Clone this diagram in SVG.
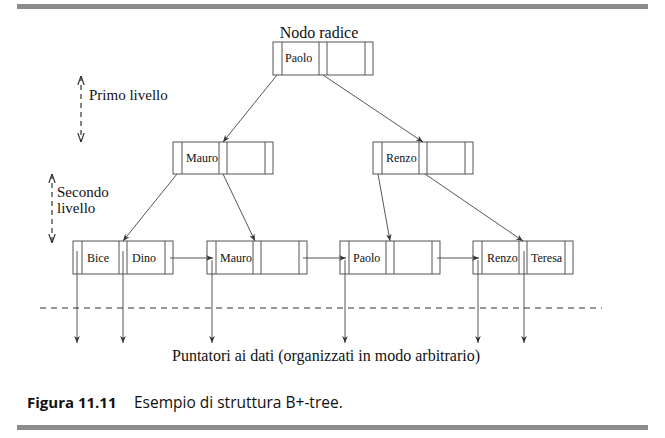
<svg xmlns="http://www.w3.org/2000/svg" width="665" height="438" viewBox="0 0 665 438">
<defs>
<marker id="ah" viewBox="0 0 10 10" refX="10" refY="5" markerWidth="7" markerHeight="7" orient="auto" markerUnits="userSpaceOnUse">
<path d="M0,1 L10,5 L0,9 L3,5 Z" fill="#333"/>
</marker>
<marker id="va" viewBox="0 0 10 10" refX="10" refY="5" markerWidth="9" markerHeight="9" orient="auto" markerUnits="userSpaceOnUse">
<path d="M0,1.5 L10,5 L0,8.5" fill="none" stroke="#333" stroke-width="1.3"/>
</marker>
<marker id="vs" viewBox="0 0 10 10" refX="0" refY="5" markerWidth="9" markerHeight="9" orient="auto" markerUnits="userSpaceOnUse">
<path d="M10,1.5 L0,5 L10,8.5" fill="none" stroke="#333" stroke-width="1.3"/>
</marker>
</defs>
<style>
.box{fill:#fff;stroke:#555;stroke-width:1}
.div{stroke:#555;stroke-width:1}
.k{font-family:"Liberation Serif",serif;font-size:12px;fill:#111}
.lbl{font-family:"Liberation Serif",serif;font-size:16px;fill:#111}
.ln{stroke:#444;stroke-width:0.9;fill:none;marker-end:url(#ah)}
.dash{stroke:#333;stroke-width:1.2;stroke-dasharray:6,5;fill:none}
.vd{stroke:#333;stroke-width:1.2;stroke-dasharray:5,4;fill:none;marker-start:url(#vs);marker-end:url(#va)}
.bar{fill:#8c8c8c}
.cap{font-family:"Open Sans","DejaVu Sans",sans-serif;font-size:15px;fill:#111}
</style>
<rect class="bar" x="17" y="4" width="631" height="5"/>
<rect class="bar" x="17" y="425" width="631" height="5"/>

<text class="lbl" x="319" y="38" text-anchor="middle">Nodo radice</text>

<g id="root">
<rect class="box" x="273" y="42" width="100" height="33"/>
<path class="div" d="M282,42V75M319,42V75M327,42V75M365,42V75"/>
<text class="k" x="285" y="62">Paolo</text>
</g>
<g id="mauro-int">
<rect class="box" x="173" y="142" width="100" height="32"/>
<path class="div" d="M182,142V174M219,142V174M227,142V174M265,142V174"/>
<text class="k" x="186" y="162">Mauro</text>
</g>
<g id="renzo-int">
<rect class="box" x="373" y="142" width="100" height="32"/>
<path class="div" d="M382,142V174M419,142V174M427,142V174M465,142V174"/>
<text class="k" x="386" y="162">Renzo</text>
</g>
<g id="leaf-bice">
<rect class="box" x="73" y="241" width="100" height="33"/>
<path class="div" d="M82,241V274M119,241V274M127,241V274M165,241V274"/>
<text class="k" x="87" y="262">Bice</text>
<text class="k" x="132" y="262">Dino</text>
</g>
<g id="leaf-mauro">
<rect class="box" x="207" y="241" width="100" height="33"/>
<path class="div" d="M216,241V274M253,241V274M261,241V274M299,241V274"/>
<text class="k" x="220" y="262">Mauro</text>
</g>
<g id="leaf-paolo">
<rect class="box" x="340" y="241" width="100" height="33"/>
<path class="div" d="M349,241V274M386,241V274M394,241V274M432,241V274"/>
<text class="k" x="353" y="262">Paolo</text>
</g>
<g id="leaf-renzo">
<rect class="box" x="473" y="241" width="100" height="33"/>
<path class="div" d="M482,241V274M519,241V274M527,241V274M565,241V274"/>
<text class="k" x="487" y="262">Renzo</text>
<text class="k" x="531" y="262">Teresa</text>
</g>

<g id="connectors">
<line class="ln" x1="277" y1="75" x2="223" y2="142"/>
<line class="ln" x1="323" y1="75" x2="423" y2="142"/>
<line class="ln" x1="177" y1="174" x2="123" y2="241"/>
<line class="ln" x1="223" y1="174" x2="255" y2="241"/>
<line class="ln" x1="378" y1="174" x2="390" y2="241"/>
<line class="ln" x1="425" y1="174" x2="523" y2="241"/>
<line class="ln" x1="170" y1="258" x2="213" y2="258"/>
<line class="ln" x1="303" y1="258" x2="346" y2="258"/>
<line class="ln" x1="437" y1="258" x2="479" y2="258"/>
<line class="ln" x1="77" y1="251" x2="77" y2="343"/>
<line class="ln" x1="123" y1="251" x2="123" y2="343"/>
<line class="ln" x1="212" y1="260" x2="212" y2="343"/>
<line class="ln" x1="345" y1="260" x2="345" y2="343"/>
<line class="ln" x1="478" y1="260" x2="478" y2="343"/>
<line class="ln" x1="524" y1="251" x2="524" y2="343"/>
</g>

<line class="dash" x1="40" y1="308" x2="602" y2="308"/>

<g id="primo-livello">
<line class="vd" x1="81" y1="76" x2="81" y2="142"/>
<text class="lbl" x="89" y="100" style="font-size:15px">Primo livello</text>
</g>
<g id="secondo-livello">
<line class="vd" x1="52" y1="174" x2="52" y2="243"/>
<text class="lbl" x="57" y="197" style="font-size:15px">Secondo</text>
<text class="lbl" x="57" y="213" style="font-size:15px">livello</text>
</g>

<text class="lbl" x="172" y="361">Puntatori ai dati (organizzati in modo arbitrario)</text>

<text class="cap" x="27" y="408" font-weight="bold">Figura 11.11</text>
<text class="cap" x="134" y="408" style="font-size:15.5px">Esempio di struttura B+-tree.</text>
</svg>
